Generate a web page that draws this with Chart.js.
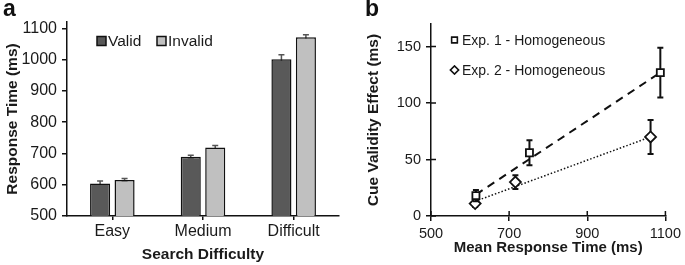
<!DOCTYPE html>
<html>
<head>
<meta charset="utf-8">
<script src="https://cdn.jsdelivr.net/npm/chart.js@4"></script>
<style>
body { margin: 0; background: #fff; }
#wrap { position: relative; width: 685px; height: 265px; font-family: 'Liberation Sans', Arial, sans-serif; }
.panel { position: absolute; top: 0; }
.letter { position: absolute; top: -5px; font-weight: bold; font-size: 23px; color: #111; }
</style>
</head>
<body>
<div id="wrap">
  <canvas id="chartA" class="panel" width="340" height="265" style="left:0"></canvas>
  <canvas id="chartB" class="panel" width="345" height="265" style="left:340px"></canvas>
  <div class="letter" style="left:3px">a</div>
  <div class="letter" style="left:365px">b</div>
</div>
<script>
// panel a
const categories = ['Easy', 'Medium', 'Difficult'];
const validRT = [604, 689, 1001];
const validErr = [8, 5, 14];
const invalidRT = [615, 719, 1071];
const invalidErr = [5, 6, 8];
const rtTicks = [500, 600, 700, 800, 900, 1000, 1100];

// panel b
const exp1RT = [615, 752, 1087];
const exp1Effect = [18, 56, 127];
const exp1Err = [5, 11, 22];
const exp2RT = [613, 716, 1062];
const exp2Effect = [11, 30, 70];
const exp2Err = [3, 6, 15];
// trendline end points
const exp1TrendRT = [615, 1087];
const exp1TrendEffect = [19, 127];
const exp2TrendRT = [613, 1062];
const exp2TrendEffect = [13, 70];
const meanRTTicks = [500, 700, 900, 1100];
const effectTicks = [0, 50, 100, 150];

Chart.defaults.font.family = "'Liberation Sans', Arial, sans-serif";
Chart.defaults.color = '#1a1a1a';
Chart.defaults.animation = false;

const INK = '#111';
const plain = v => String(v);

function toPoints(xs, ys) {
    return xs.map((x, i) => ({ x: x, y: ys[i] }));
}

// error bars, drawn under each dataset so markers/bars cover the inner half
const errorBars = {
    id: 'errorBars',
    beforeDatasetDraw(chart, args) {
        const ds = chart.data.datasets[args.index];
        if (!ds.errors) return;
        const meta = args.meta;
        const yScale = chart.scales[meta.yAxisID];
        const ctx = chart.ctx;
        ctx.save();
        ctx.strokeStyle = ds.errorColor || INK;
        ctx.lineWidth = ds.errorWidth || 1.5;
        meta.data.forEach((el, i) => {
            const v = meta.controller.getParsed(i).y;
            const e = ds.errors[i];
            const top = yScale.getPixelForValue(v + e);
            const bot = yScale.getPixelForValue(v - e);
            ctx.beginPath();
            ctx.moveTo(el.x, top); ctx.lineTo(el.x, bot);
            ctx.moveTo(el.x - 3, top); ctx.lineTo(el.x + 3, top);
            ctx.moveTo(el.x - 3, bot); ctx.lineTo(el.x + 3, bot);
            ctx.stroke();
        });
        ctx.restore();
    }
};

// simple in-plot legend
const innerLegend = {
    id: 'innerLegend',
    afterDraw(chart, args, opts) {
        const ctx = chart.ctx;
        ctx.save();
        ctx.font = opts.font;
        ctx.textBaseline = 'middle';
        opts.items.forEach(it => {
            ctx.lineWidth = 1.5;
            ctx.strokeStyle = INK;
            if (it.box) {
                ctx.fillStyle = it.box;
                ctx.fillRect(it.x, it.y - it.size / 2, it.size, it.size);
                ctx.strokeRect(it.x, it.y - it.size / 2, it.size, it.size);
            } else {
                ctx.fillStyle = '#fff';
                Chart.helpers.drawPoint(ctx, { pointStyle: it.marker, radius: it.size, borderWidth: 1.5 }, it.x, it.y);
                ctx.fill();
                ctx.stroke();
            }
            ctx.fillStyle = '#1a1a1a';
            ctx.fillText(it.text, it.tx, it.y + 1);
        });
        ctx.restore();
    }
};

// tick marks that cross the axis line (panel b)
const crossTicks = {
    id: 'crossTicks',
    afterDraw(chart) {
        const ctx = chart.ctx;
        const area = chart.chartArea;
        ctx.save();
        ctx.strokeStyle = INK;
        ctx.lineWidth = 1.5;
        ctx.beginPath();
        chart.scales.x.ticks.forEach(t => {
            const px = chart.scales.x.getPixelForValue(t.value);
            ctx.moveTo(px, area.bottom); ctx.lineTo(px, area.bottom - 5);
        });
        chart.scales.y.ticks.forEach(t => {
            const py = chart.scales.y.getPixelForValue(t.value);
            ctx.moveTo(area.left, py); ctx.lineTo(area.left + 5, py);
        });
        ctx.stroke();
        ctx.restore();
    }
};

const axisGrid = { drawOnChartArea: false, drawTicks: true, tickLength: 5, color: INK, lineWidth: 1.5 };
const axisBorder = { display: true, color: INK, width: 1.5 };

// Response time by search difficulty (bars)
new Chart(document.getElementById('chartA'), {
    type: 'bar',
    data: {
        labels: categories,
        datasets: [{
            label: 'Valid',
            data: validRT,
            errors: validErr,
            errorColor: '#555',
            backgroundColor: '#595959',
            borderColor: INK,
            borderWidth: 1.5
        }, {
            label: 'Invalid',
            data: invalidRT,
            errors: invalidErr,
            errorColor: '#555',
            backgroundColor: '#c0c0c0',
            borderColor: INK,
            borderWidth: 1.5
        }]
    },
    options: {
        responsive: false,
        categoryPercentage: 0.54,
        barPercentage: 0.82,
        layout: { padding: { top: 22, right: 1, left: 0, bottom: 0 } },
        scales: {
            x: {
                grid: Object.assign({}, axisGrid, { offset: false, tickLength: 4 }),
                border: axisBorder,
                ticks: { font: { size: 16 }, padding: 2, maxRotation: 0 },
                title: { display: true, text: 'Search Difficulty', font: { size: 15.5, weight: 'bold' }, padding: { top: 0, bottom: 1 } },
                afterFit(scale) { scale.height = 49; }
            },
            y: {
                min: 500,
                max: 1120,
                grid: axisGrid,
                border: axisBorder,
                ticks: { font: { size: 16 }, padding: 5, callback: plain },
                afterBuildTicks(scale) { scale.ticks = rtTicks.map(v => ({ value: v })); },
                title: { display: true, text: 'Response Time (ms)', font: { size: 15.5, weight: 'bold' }, padding: { top: 3, bottom: 0 } },
                afterFit(scale) { scale.width = 67; }
            }
        },
        plugins: {
            legend: { display: false },
            tooltip: { enabled: false },
            innerLegend: {
                font: '15.5px "Liberation Sans", Arial, sans-serif',
                items: [
                    { box: '#595959', x: 97, y: 41, size: 9, text: 'Valid', tx: 108 },
                    { box: '#c0c0c0', x: 157, y: 41, size: 9, text: 'Invalid', tx: 168 }
                ]
            }
        }
    },
    plugins: [errorBars, innerLegend]
});

// Cue validity effect vs mean response time (scatter + trendlines)
new Chart(document.getElementById('chartB'), {
    type: 'scatter',
    data: {
        datasets: [{
            type: 'line',
            label: 'Exp. 1 trend',
            data: toPoints(exp1TrendRT, exp1TrendEffect),
            borderColor: INK,
            borderWidth: 2,
            borderDash: [8, 6],
            pointRadius: 0,
            order: 3
        }, {
            type: 'line',
            label: 'Exp. 2 trend',
            data: toPoints(exp2TrendRT, exp2TrendEffect),
            borderColor: INK,
            borderWidth: 1.5,
            borderDash: [1.5, 2],
            pointRadius: 0,
            order: 3
        }, {
            label: 'Exp. 1 - Homogeneous',
            data: toPoints(exp1RT, exp1Effect),
            errors: exp1Err,
            errorWidth: 2,
            pointStyle: 'rect',
            pointRadius: 5,
            pointBorderWidth: 1.8,
            backgroundColor: '#fff',
            borderColor: INK,
            order: 1
        }, {
            label: 'Exp. 2 - Homogeneous',
            data: toPoints(exp2RT, exp2Effect),
            errors: exp2Err,
            errorWidth: 2,
            pointStyle: 'rectRot',
            pointRadius: 5.5,
            pointBorderWidth: 1.8,
            backgroundColor: '#fff',
            borderColor: INK,
            order: 1
        }]
    },
    options: {
        responsive: false,
        layout: { padding: { top: 24, right: 18, left: 0, bottom: 0 } },
        scales: {
            x: {
                type: 'linear',
                min: 500,
                max: 1100,
                grid: axisGrid,
                border: axisBorder,
                ticks: { font: { size: 14.5 }, padding: 4, maxRotation: 0, callback: plain },
                afterBuildTicks(scale) { scale.ticks = meanRTTicks.map(v => ({ value: v })); },
                title: { display: true, text: 'Mean Response Time (ms)', font: { size: 15, weight: 'bold' }, padding: { top: 0, bottom: 8 } },
                afterFit(scale) { scale.height = 49; }
            },
            y: {
                min: 0,
                max: 170,
                grid: axisGrid,
                border: axisBorder,
                ticks: { font: { size: 14.5 }, padding: 5, callback: plain },
                afterBuildTicks(scale) { scale.ticks = effectTicks.map(v => ({ value: v })); },
                title: { display: true, text: 'Cue Validity Effect (ms)', font: { size: 15.5, weight: 'bold' }, padding: { top: 24, bottom: 0 } },
                afterFit(scale) { scale.width = 91; }
            }
        },
        plugins: {
            legend: { display: false },
            tooltip: { enabled: false },
            innerLegend: {
                font: '14px "Liberation Sans", Arial, sans-serif',
                items: [
                    { marker: 'rect', x: 114.5, y: 40, size: 4, text: 'Exp. 1 - Homogeneous', tx: 122 },
                    { marker: 'rectRot', x: 114.5, y: 70, size: 4, text: 'Exp. 2 - Homogeneous', tx: 122 }
                ]
            }
        }
    },
    plugins: [errorBars, innerLegend, crossTicks]
});
</script>
</body>
</html>
